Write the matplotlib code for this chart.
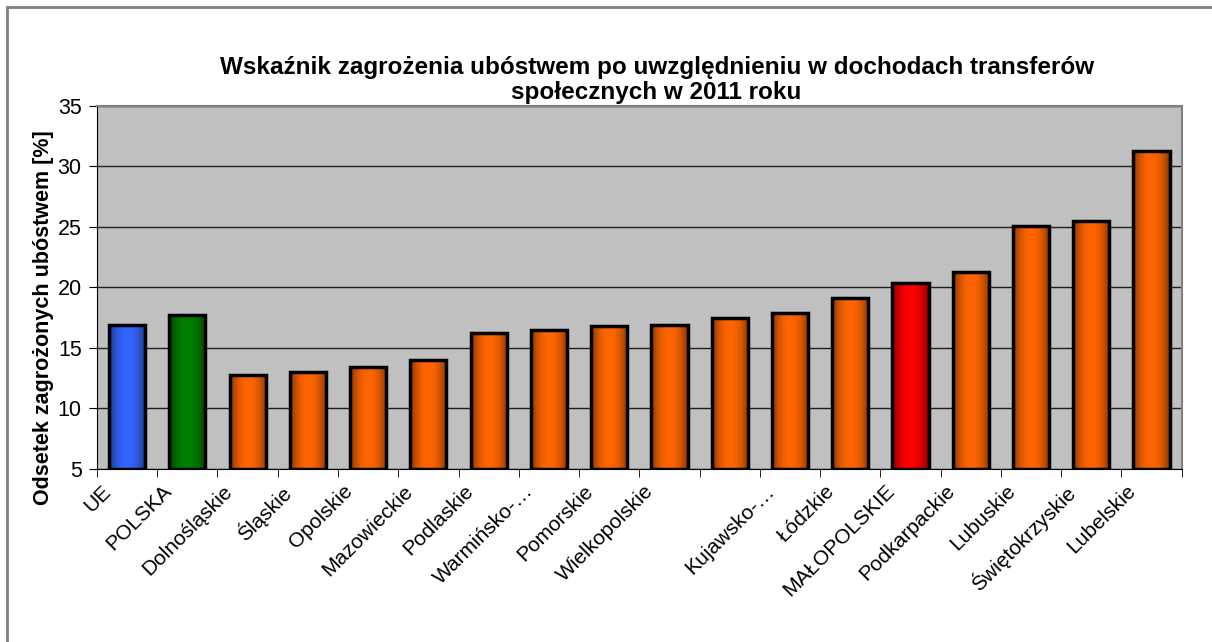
import numpy as np
import matplotlib
matplotlib.use("Agg")
import matplotlib.pyplot as plt
from matplotlib.colors import to_rgb
from matplotlib.patches import Rectangle
from matplotlib.transforms import ScaledTranslation

plt.rcParams['font.family'] = ['Liberation Sans', 'DejaVu Sans']

regions = ['UE', 'POLSKA', 'Dolnośląskie', 'Śląskie', 'Opolskie', 'Mazowieckie',
           'Podlaskie', 'Warmińsko-…', 'Pomorskie', 'Wielkopolskie', '',
           'Kujawsko-…', 'Łódzkie', 'MAŁOPOLSKIE', 'Podkarpackie', 'Lubuskie',
           'Świętokrzyskie', 'Lubelskie']
values = [16.9, 17.7, 12.8, 13.0, 13.4, 14.0, 16.2, 16.5, 16.8, 16.9, 17.5,
          17.9, 19.1, 20.4, 21.3, 25.1, 25.5, 31.3]
colors = ['#3366ff', '#008000'] + ['#ff6600'] * 11 + ['#ff0000'] + ['#ff6600'] * 4

fig = plt.figure(figsize=(12.12, 6.42), dpi=100)
ax = fig.add_axes([0.080, 0.2695, 0.895, 0.5655])
ax.set_facecolor('#c0c0c0')

x = np.arange(len(values))
width = 0.6
ax.set_xlim(-0.5, len(values) - 0.5)
ax.set_ylim(5, 35)

# cylinder-like shading across each bar
t = np.linspace(0, 1, 200)
shade = 0.45 + 0.55 * np.sin(np.pi * t) ** 0.7
for xi, v, c in zip(x, values, colors):
    rgb = np.array(to_rgb(c))
    img = (shade[:, None] * rgb[None, :])[None, :, :]
    ax.imshow(img, extent=[xi - width / 2, xi + width / 2, 5, v],
              aspect='auto', zorder=3, interpolation='bilinear')

ax.bar(x, np.array(values) - 5, width, bottom=5, facecolor='none',
       edgecolor='black', linewidth=2.5, zorder=4)

ax.set_aspect('auto')
ax.set_yticks(range(5, 36, 5))
ax.set_yticklabels([str(v) for v in range(5, 36, 5)], fontsize=15.5)
ax.yaxis.grid(True, color='#202020', linewidth=1)
ax.set_axisbelow(True)

ax.set_xticks(x)
ax.set_xticklabels(regions, rotation=45, ha='right', va='top', fontsize=15)
ax.tick_params(axis='x', length=0, pad=9)
shift = ScaledTranslation(-12 / 100, 0, fig.dpi_scale_trans)
for lbl in ax.get_xticklabels():
    lbl.set_transform(lbl.get_transform() + shift)
ax.set_xticks(np.arange(-0.5, len(values)), minor=True)
ax.tick_params(axis='x', which='minor', length=6, direction='out', color='black')
ax.tick_params(axis='y', length=6, pad=5, direction='out', color='black')

for s in ['top', 'right']:
    ax.spines[s].set_color('#808080')
    ax.spines[s].set_linewidth(1.5)
ax.spines['bottom'].set_color('black')
ax.spines['left'].set_color('black')

ax.set_ylabel('Odsetek zagrożonych ubóstwem [%]', fontsize=15.5, fontweight='bold')
ax.yaxis.set_label_coords(-0.040, 0.418)
ax.set_title('Wskaźnik zagrożenia ubóstwem po uwzględnieniu w dochodach transferów\nspołecznych w 2011 roku',
             fontsize=17.5, fontweight='bold', pad=5, linespacing=1.12, x=0.516)

# chart area border (only top and left visible in the crop)
fig.patches.append(Rectangle((0.0058, -0.1), 1.2, 1.089, transform=fig.transFigure,
                             fill=False, edgecolor='#808080', linewidth=2))

fig.savefig('out.png', dpi=100)
